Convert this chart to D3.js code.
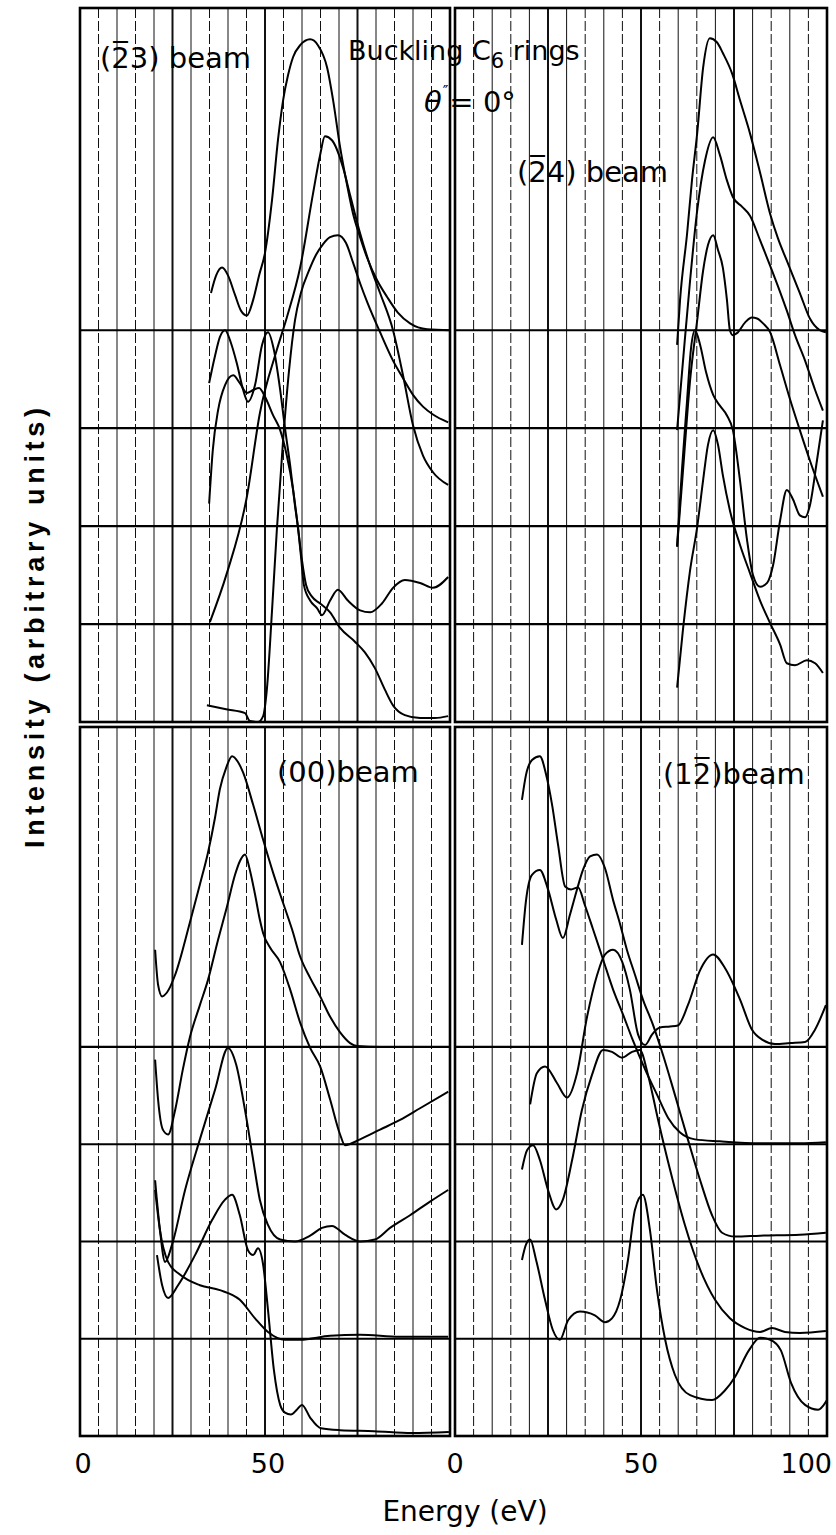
<!DOCTYPE html>
<html><head><meta charset="utf-8">
<script src="https://cdn.jsdelivr.net/npm/d3@7"></script>
<style>body{margin:0;background:#fff}svg{display:block}</style>
</head><body>
<svg id="chart" width="836" height="1535"></svg>
<script>
// ---------- data (energy in eV, intensity in grid units of the panel) ----------
const energyTicksLeft = [0, 50];
const energyTicksRight = [0, 50, 100];
const gridEnergies = d3.range(5, 100, 5);
const offsetLines = [1, 2, 3, 4];

// (-2 3) beam
const beam23_a = [[35.4,4.38],[36.8,4.56],[38.4,4.64],[40.0,4.56],[41.9,4.36],[43.5,4.20],[45.1,4.15],[46.8,4.31],[48.4,4.56],[50.0,4.79],[51.9,5.33],[53.5,5.94],[54.9,6.35],[56.2,6.60],[57.6,6.79],[59.5,6.91],[62.2,6.97],[64.3,6.91],[66.8,6.68],[68.4,6.35],[70.3,5.87],[72.2,5.48],[73.8,5.19],[75.7,4.95],[77.6,4.74],[80.3,4.51],[83.0,4.34],[85.9,4.18],[89.2,4.07],[93.8,4.01],[100,4.00]];
const beam23_b = [[35.1,1.02],[39.7,1.52],[45.1,2.30],[48.6,3.15],[53.2,3.80],[55.9,4.13],[59.5,4.64],[63.0,5.40],[64.9,5.79],[66.2,5.98],[68.1,5.94],[71.1,5.66],[73.0,5.38],[75.7,4.99],[78.4,4.66],[81.1,4.38],[84.6,4.00],[87.3,3.54],[90.0,3.03],[92.7,2.72],[95.4,2.55],[99.5,2.42]];
const beam23_c = [[34.3,0.17],[39.5,0.13],[44.6,0.09],[45.9,0.01],[48.1,0.0],[49.5,0.06],[50.5,0.33],[51.9,1.14],[53.2,1.96],[54.9,2.88],[56.5,3.59],[58.1,4.10],[59.7,4.38],[61.9,4.61],[63.8,4.77],[65.7,4.88],[67.6,4.95],[69.7,4.97],[71.9,4.89],[73.8,4.69],[75.7,4.48],[77.6,4.29],[81.1,3.98],[84.6,3.69],[87.3,3.51],[90.0,3.34],[92.7,3.22],[95.4,3.14],[99.5,3.06]];
const beam23_d = [[34.9,3.46],[36.5,3.74],[37.8,3.93],[39.2,4.00],[40.8,3.87],[42.4,3.66],[44.1,3.39],[45.4,3.27],[47.3,3.44],[49.2,3.85],[50.8,3.98],[52.4,3.80],[54.1,3.39],[55.4,3.00],[56.8,2.62],[58.1,2.21],[58.9,1.99],[59.7,1.70],[60.5,1.40],[62.2,1.24],[64.1,1.16],[65.4,1.09],[67.6,1.24],[69.7,1.35],[72.4,1.24],[75.7,1.14],[78.4,1.12],[81.6,1.21],[84.6,1.37],[87.8,1.45],[91.9,1.42],[95.4,1.37],[99.5,1.48]];
const beam23_e = [[34.9,2.23],[35.9,2.78],[37.3,3.18],[39.2,3.44],[41.4,3.54],[43.2,3.46],[45.1,3.36],[46.8,3.39],[48.4,3.41],[50.0,3.32],[52.2,3.13],[54.1,2.98],[55.9,2.72],[57.6,2.37],[58.9,1.99],[60.0,1.65],[61.1,1.40],[62.7,1.28],[64.9,1.21],[67.6,1.12],[70.3,0.96],[74.3,0.82],[77.0,0.71],[79.7,0.55],[82.4,0.33],[84.6,0.17],[87.8,0.07],[91.9,0.04],[95.9,0.04],[99.5,0.06]];

// (-2 4) beam
const beam24_a = [[59.7,3.85],[60.5,4.31],[62.4,4.99],[63.7,5.53],[65.1,6.01],[66.7,6.68],[68.5,6.98],[70.4,6.94],[72.0,6.83],[74.5,6.62],[76.6,6.35],[79.3,6.01],[82.0,5.61],[84.7,5.19],[86.8,4.94],[89.2,4.71],[92.7,4.38],[95.4,4.12],[98.1,4.00],[99.7,3.98]];
const beam24_b = [[59.7,2.98],[61.3,3.69],[63.2,4.51],[65.1,5.22],[67.2,5.73],[69.4,5.97],[71.2,5.79],[73.1,5.53],[74.7,5.36],[77.2,5.26],[79.3,5.17],[82.0,4.92],[84.7,4.66],[87.4,4.39],[89.2,4.20],[91.4,3.95],[94.1,3.69],[96.8,3.39],[98.9,3.18]];
const beam24_c = [[59.7,1.79],[61.3,2.57],[63.2,3.49],[65.1,4.10],[66.7,4.61],[68.0,4.87],[69.4,4.97],[70.7,4.82],[72.0,4.64],[73.1,4.31],[73.9,4.00],[74.7,3.95],[75.8,3.97],[78.0,4.08],[79.8,4.13],[81.2,4.12],[82.8,4.07],[84.7,3.98],[87.4,3.64],[90.1,3.29],[92.7,2.98],[95.4,2.67],[98.9,2.30]];
const beam24_d = [[59.7,1.79],[61.0,2.57],[62.4,3.29],[63.4,3.80],[64.5,4.00],[65.9,3.85],[67.5,3.57],[69.4,3.34],[71.2,3.23],[73.1,3.13],[74.7,2.98],[76.6,2.47],[78.5,1.86],[80.1,1.50],[82.0,1.38],[83.9,1.42],[85.5,1.60],[87.4,2.06],[89.2,2.37],[90.9,2.27],[92.7,2.11],[94.1,2.09],[95.4,2.21],[97.3,2.67],[98.9,3.08]];
const beam24_e = [[59.7,0.35],[61.3,0.95],[63.2,1.55],[65.1,1.99],[66.7,2.47],[68.0,2.83],[69.4,2.98],[70.7,2.83],[72.0,2.52],[73.9,2.16],[76.6,1.81],[79.3,1.52],[82.0,1.24],[84.7,1.01],[87.4,0.79],[89.2,0.60],[91.4,0.58],[94.6,0.63],[96.8,0.60],[98.9,0.50]];

// (00) beam
const beam00_a = [[20.3,5.00],[21.1,4.64],[22.2,4.52],[23.5,4.56],[25.7,4.74],[29.7,5.28],[32.4,5.67],[34.6,6.00],[36.5,6.36],[37.8,6.65],[39.5,6.87],[41.1,6.99],[42.7,6.93],[44.1,6.82],[46.8,6.49],[49.5,6.13],[52.2,5.79],[54.9,5.48],[57.3,5.21],[59.5,4.93],[62.2,4.71],[64.9,4.52],[67.6,4.31],[70.3,4.15],[73.0,4.04],[74.9,4.01],[81.1,4.00],[89.2,4.00],[99.5,4.00]];
const beam00_b = [[20.3,3.87],[21.1,3.46],[22.4,3.15],[23.8,3.10],[25.7,3.35],[27.8,3.77],[29.7,4.10],[32.4,4.43],[34.6,4.69],[37.3,5.10],[39.7,5.44],[41.9,5.77],[43.2,5.91],[44.6,5.98],[45.9,5.82],[47.3,5.57],[48.6,5.31],[49.5,5.17],[51.4,5.02],[54.1,4.87],[56.8,4.59],[59.5,4.25],[62.2,3.99],[64.9,3.80],[67.6,3.46],[70.3,3.10],[71.6,2.99],[75.7,3.05],[81.1,3.15],[86.5,3.25],[91.9,3.37],[99.5,3.54]];
const beam00_c = [[20.3,2.63],[21.6,2.12],[23.0,1.79],[24.9,1.97],[28.4,2.53],[32.4,3.05],[36.5,3.56],[40.0,3.99],[42.2,3.82],[44.6,3.35],[46.8,2.84],[48.6,2.43],[50.8,2.17],[54.1,2.02],[58.1,2.00],[62.2,2.06],[65.4,2.14],[68.1,2.16],[71.6,2.07],[75.7,2.00],[79.7,2.02],[83.8,2.14],[89.2,2.27],[94.6,2.41],[99.5,2.53]];
const beam00_d = [[20.3,2.53],[21.6,2.12],[23.8,1.79],[27.0,1.66],[32.4,1.55],[37.8,1.50],[43.2,1.40],[47.3,1.21],[50.8,1.07],[55.4,0.99],[59.5,0.99],[67.6,1.03],[75.7,1.04],[86.5,1.02],[99.5,1.02]];
const beam00_e = [[20.8,1.86],[22.2,1.55],[23.8,1.42],[26.5,1.55],[31.1,1.86],[35.7,2.22],[39.2,2.43],[41.1,2.48],[43.2,2.27],[45.4,1.91],[46.8,1.86],[48.1,1.93],[49.5,1.76],[50.8,1.30],[52.4,0.68],[54.1,0.32],[55.4,0.24],[57.0,0.22],[58.6,0.27],[60.0,0.32],[62.2,0.19],[65.1,0.08],[70.3,0.06],[79.5,0.05],[89.7,0.03],[99.7,0.04]];

// (1 -2) beam
const beam12_a = [[18.0,6.54],[19.1,6.80],[20.7,6.95],[22.8,6.99],[24.5,6.80],[26.1,6.49],[27.7,6.08],[29.6,5.65],[31.2,5.62],[33.1,5.64],[34.9,5.46],[37.1,5.21],[39.8,4.90],[42.5,4.59],[45.2,4.33],[47.8,4.07],[51.1,3.77],[54.3,3.51],[57.3,3.27],[60.5,3.12],[64.5,3.05],[71.2,3.03],[82.0,3.01],[92.7,3.01],[99.7,3.02]];
const beam12_b = [[18.0,5.05],[19.1,5.51],[20.7,5.77],[22.8,5.82],[25.0,5.62],[27.2,5.31],[29.0,5.12],[30.9,5.36],[32.8,5.62],[34.4,5.82],[36.3,5.96],[38.2,5.98],[40.3,5.84],[42.5,5.51],[44.4,5.26],[46.2,5.00],[48.4,4.74],[50.5,4.49],[53.2,4.23],[55.9,3.92],[59.1,3.51],[62.6,3.05],[65.9,2.63],[69.1,2.27],[71.8,2.09],[75.3,2.05],[82.0,2.06],[92.7,2.07],[99.7,2.09]];
const beam12_c = [[20.2,3.41],[22.0,3.73],[24.2,3.80],[27.4,3.63],[30.1,3.48],[32.8,3.73],[35.5,4.31],[38.2,4.74],[40.3,4.95],[42.5,5.00],[44.9,4.88],[47.0,4.59],[49.2,4.13],[51.1,4.02],[53.0,4.13],[55.1,4.20],[57.8,4.21],[59.9,4.22],[62.6,4.43],[65.9,4.79],[69.4,4.95],[72.6,4.81],[76.6,4.49],[79.8,4.18],[82.8,4.07],[86.0,4.03],[90.1,4.04],[94.1,4.05],[96.8,4.18],[99.7,4.43]];
const beam12_d = [[18.0,2.74],[19.4,2.94],[21.0,2.99],[22.8,2.84],[25.0,2.53],[27.2,2.33],[29.0,2.43],[31.5,2.84],[34.1,3.35],[36.8,3.71],[39.8,3.97],[42.2,3.95],[44.9,3.89],[47.6,3.95],[49.7,3.97],[51.9,3.71],[54.6,3.25],[57.8,2.74],[61.8,2.17],[65.9,1.71],[69.9,1.40],[73.9,1.21],[78.0,1.11],[82.0,1.07],[85.2,1.11],[88.7,1.07],[92.7,1.06],[99.7,1.08]];
const beam12_e = [[18.0,1.81],[19.1,1.97],[20.2,2.02],[21.8,1.81],[24.2,1.40],[26.3,1.09],[28.2,0.99],[30.4,1.19],[33.6,1.28],[37.6,1.24],[40.3,1.17],[42.2,1.21],[44.4,1.40],[46.5,1.81],[48.4,2.33],[50.5,2.48],[52.4,2.12],[54.3,1.50],[56.5,0.99],[59.1,0.63],[63.2,0.42],[69.1,0.37],[72.6,0.47],[75.3,0.61],[79.0,0.88],[82.0,1.01],[84.7,0.99],[87.6,0.88],[90.3,0.55],[94.1,0.32],[97.6,0.27],[100,0.37]];

// ---------- drawing ----------
const svg = d3.select('#chart');
const FONT = "'DejaVu Sans', sans-serif";

const xLeft = d3.scaleLinear().domain([0, 100]).range([80, 450]);
const xRight = d3.scaleLinear().domain([0, 100]).range([455, 827]);
const yTop = d3.scaleLinear().domain([0, 7.29]).range([722, 8]);
const yBottom = d3.scaleLinear().domain([0, 7.29]).range([1436, 727]);

const panels = [
  {id: 'p23', x: xLeft, y: yTop, curves: [beam23_a, beam23_b, beam23_c, beam23_d, beam23_e]},
  {id: 'p24', x: xRight, y: yTop, curves: [beam24_a, beam24_b, beam24_c, beam24_d, beam24_e]},
  {id: 'p00', x: xLeft, y: yBottom, curves: [beam00_a, beam00_b, beam00_c, beam00_d, beam00_e]},
  {id: 'p12', x: xRight, y: yBottom, curves: [beam12_a, beam12_b, beam12_c, beam12_d, beam12_e]}
];

const defs = svg.append('defs');

panels.forEach(p => {
  const [x0, x1] = p.x.range();
  const [yb, yt] = p.y.range();
  defs.append('clipPath').attr('id', 'clip-' + p.id)
    .append('rect').attr('x', x0).attr('y', yt).attr('width', x1 - x0).attr('height', yb - yt);
  const g = svg.append('g');
  g.selectAll('line.v').data(gridEnergies).join('line')
    .attr('x1', d => p.x(d)).attr('x2', d => p.x(d))
    .attr('y1', yt).attr('y2', yb)
    .attr('stroke', '#111')
    .attr('stroke-width', d => d % 25 === 0 ? 2 : 1)
    .attr('stroke-dasharray', d => (d % 25 === 0 || d % 10 === 0) ? null : '10,3');
  g.selectAll('line.h').data(offsetLines).join('line')
    .attr('x1', x0).attr('x2', x1)
    .attr('y1', d => p.y(d)).attr('y2', d => p.y(d))
    .attr('stroke', '#000').attr('stroke-width', 2.2);
  g.append('rect').attr('x', x0).attr('y', yt).attr('width', x1 - x0).attr('height', yb - yt)
    .attr('fill', 'none').attr('stroke', '#000').attr('stroke-width', 2.6);
  const line = d3.line().x(d => p.x(d[0])).y(d => p.y(d[1])).curve(d3.curveMonotoneX);
  g.append('g').attr('clip-path', 'url(#clip-' + p.id + ')')
    .selectAll('path').data(p.curves).join('path')
    .attr('d', line).attr('fill', 'none').attr('stroke', '#000').attr('stroke-width', 2)
    .attr('stroke-linejoin', 'round');
});

function label(x, y, size, anchor) {
  return svg.append('text').attr('x', x).attr('y', y).attr('font-family', FONT)
    .attr('font-size', size).attr('text-anchor', anchor || 'start').attr('fill', '#000');
}

// panel labels
label(100, 68, 29).text('(2\u03053) beam');
label(517, 182, 29).text('(2\u03054) beam');
label(277, 782, 29).text('(00)beam');
label(663, 784, 29).text('(12\u0305)beam');

const t1 = label(348, 60, 27);
t1.append('tspan').text('Buckling C');
t1.append('tspan').attr('dy', 8).attr('font-size', 21).text('6');
t1.append('tspan').attr('dy', -8).text(' rings');
const t2 = label(424, 112, 29);
t2.append('tspan').attr('font-style', 'italic').text('\u03b8');
t2.append('tspan').attr('dy', -15).attr('dx', 1).attr('font-size', 15).text('\u2033');
t2.append('tspan').attr('dy', 15).attr('dx', 1).text('= 0\u00b0');

// x tick labels
const tickY = 1473;
energyTicksLeft.forEach(e => label(xLeft(e) + 3, tickY, 27, 'middle').text(e));
energyTicksRight.forEach(e => label(e === 100 ? xRight(e) + 5 : xRight(e), tickY, 27, e === 100 ? 'end' : 'middle').text(e));

// axis titles
label(465, 1521, 28, 'middle').text('Energy (eV)');
svg.append('text').attr('transform', 'translate(44,628) rotate(-90)')
  .attr('text-anchor', 'middle').attr('font-family', "'Liberation Sans', Arial, sans-serif")
  .attr('font-weight', 'bold').attr('font-size', 27).attr('textLength', 440)
  .attr('lengthAdjust', 'spacing')
  .text('Intensity  (arbitrary  units)');
</script>
</body></html>
